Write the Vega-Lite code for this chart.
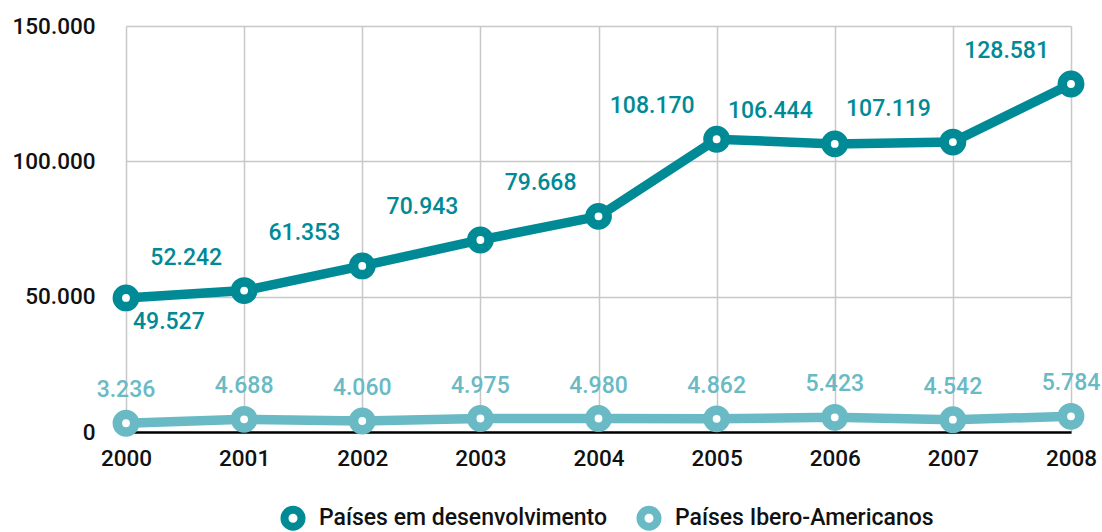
{
  "$schema": "https://vega.github.io/schema/vega-lite/v6.json",
  "autosize": {"type": "none"},
  "width": 945,
  "height": 406,
  "padding": {"left": 126, "top": 26, "right": 31, "bottom": 100},
  "background": "white",
  "config": {
    "locale": {"number": {"decimal": ",", "thousands": ".", "grouping": [3], "currency": ["", " €"]}},
    "font": "Roboto",
    "view": {"stroke": null}
  },
  "data": {
    "values": [
      {"year": 2000, "series": "Países em desenvolvimento", "value": 49527},
      {"year": 2001, "series": "Países em desenvolvimento", "value": 52242},
      {"year": 2002, "series": "Países em desenvolvimento", "value": 61353},
      {"year": 2003, "series": "Países em desenvolvimento", "value": 70943},
      {"year": 2004, "series": "Países em desenvolvimento", "value": 79668},
      {"year": 2005, "series": "Países em desenvolvimento", "value": 108170},
      {"year": 2006, "series": "Países em desenvolvimento", "value": 106444},
      {"year": 2007, "series": "Países em desenvolvimento", "value": 107119},
      {"year": 2008, "series": "Países em desenvolvimento", "value": 128581},
      {"year": 2000, "series": "Países Ibero-Americanos", "value": 3236},
      {"year": 2001, "series": "Países Ibero-Americanos", "value": 4688},
      {"year": 2002, "series": "Países Ibero-Americanos", "value": 4060},
      {"year": 2003, "series": "Países Ibero-Americanos", "value": 4975},
      {"year": 2004, "series": "Países Ibero-Americanos", "value": 4980},
      {"year": 2005, "series": "Países Ibero-Americanos", "value": 4862},
      {"year": 2006, "series": "Países Ibero-Americanos", "value": 5423},
      {"year": 2007, "series": "Países Ibero-Americanos", "value": 4542},
      {"year": 2008, "series": "Países Ibero-Americanos", "value": 5784}
    ]
  },
  "encoding": {
    "x": {
      "field": "year", "type": "quantitative",
      "scale": {"domain": [2000, 2008], "nice": false, "zero": false},
      "axis": {
        "title": null, "values": [2000, 2001, 2002, 2003, 2004, 2005, 2006, 2007, 2008],
        "format": "d", "grid": true, "gridColor": "#c8c8c8", "gridWidth": 1.5,
        "tickSize": 0, "labelPadding": 15, "labelFontSize": 22.5, "labelFontWeight": 500,
        "labelColor": "#111", "domainColor": "#000", "domainWidth": 2.5, "labelFlush": false
      }
    },
    "y": {
      "field": "value", "type": "quantitative",
      "scale": {"domain": [0, 150000], "nice": false},
      "axis": {
        "title": null, "values": [0, 50000, 100000, 150000], "format": ",d",
        "grid": true, "gridColor": "#c8c8c8", "gridWidth": 1.5, "domain": false,
        "tickSize": 0, "labelPadding": 31, "labelFontSize": 22.5, "labelFontWeight": 500,
        "labelColor": "#111"
      }
    }
  },
  "layer": [
    {
      "mark": {"type": "line", "strokeWidth": 9.5},
      "encoding": {
        "color": {"field": "series", "type": "nominal",
          "scale": {"domain": ["Países em desenvolvimento", "Países Ibero-Americanos"], "range": ["#008A96", "#69BAC4"]},
          "legend": {
            "title": null, "orient": "none", "direction": "horizontal",
            "legendX": 154, "legendY": 479,
            "symbolType": "circle", "symbolSize": 290, "symbolStrokeWidth": 8, "symbolFillColor": "white",
            "labelFontSize": 23, "labelFontWeight": 500, "labelColor": "#111", "labelLimit": 0,
            "columnPadding": 16, "labelOffset": 13
          }
        }
      }
    },
    {
      "mark": {"type": "point", "filled": true, "fill": "white", "size": 300, "strokeWidth": 9.5, "opacity": 1},
      "encoding": {
        "stroke": {"field": "series", "type": "nominal",
          "scale": {"domain": ["Países em desenvolvimento", "Países Ibero-Americanos"], "range": ["#008A96", "#69BAC4"]},
          "legend": null
        }
      }
    },
    {
      "transform": [{"filter": "datum.series == 'Países em desenvolvimento' && datum.year != 2000"}],
      "mark": {"type": "text", "align": "right", "dx": -22, "dy": -33, "fontSize": 23, "fontWeight": 500, "color": "#008A96", "baseline": "middle"},
      "encoding": {"text": {"field": "value", "type": "quantitative", "format": ",d"}}
    },
    {
      "transform": [{"filter": "datum.series == 'Países em desenvolvimento' && datum.year == 2000"}],
      "mark": {"type": "text", "align": "left", "dx": 7, "dy": 24, "fontSize": 23, "fontWeight": 500, "color": "#008A96", "baseline": "middle"},
      "encoding": {"text": {"field": "value", "type": "quantitative", "format": ",d"}}
    },
    {
      "transform": [{"filter": "datum.series == 'Países Ibero-Americanos'"}],
      "mark": {"type": "text", "dx": 0, "dy": -33, "fontSize": 23, "fontWeight": 500, "color": "#69BAC4", "baseline": "middle"},
      "encoding": {"text": {"field": "value", "type": "quantitative", "format": ",d"}}
    }
  ]
}
